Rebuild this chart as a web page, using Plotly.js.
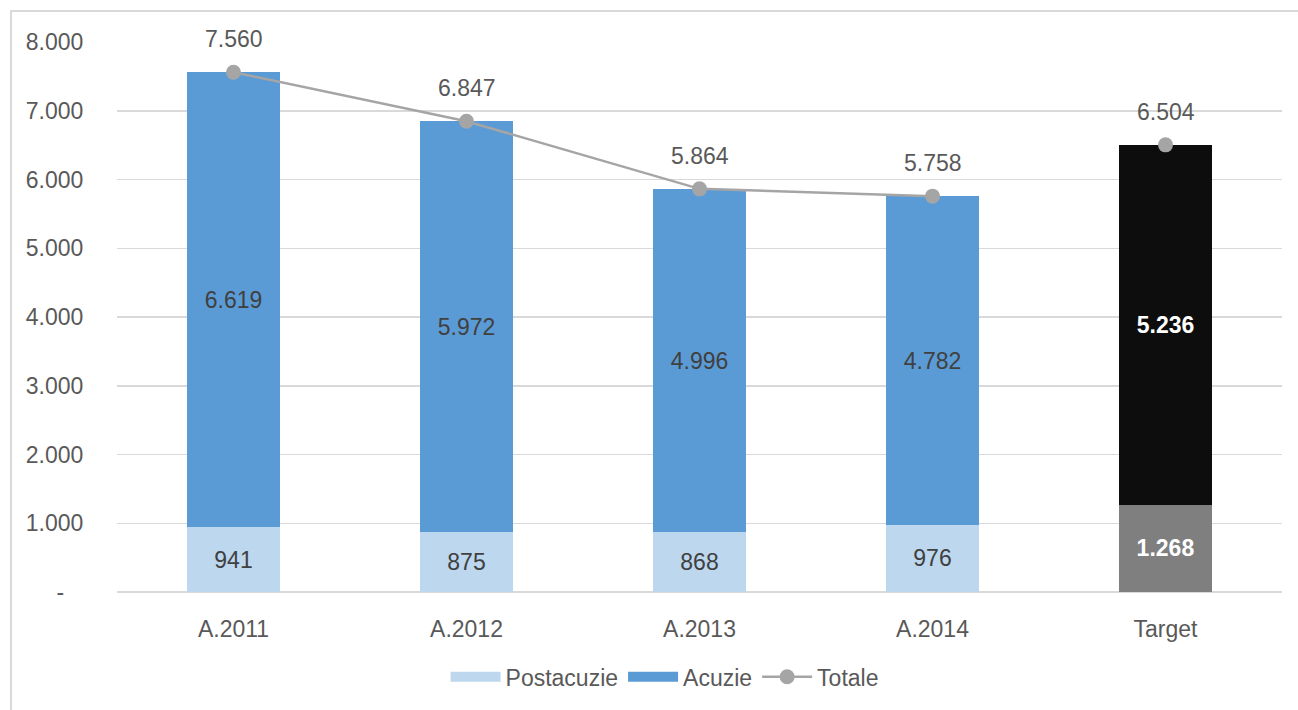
<!DOCTYPE html>
<html>
<head>
<meta charset="utf-8">
<script src="https://cdn.plot.ly/plotly-3.0.1.min.js"></script>
<style>html,body{margin:0;padding:0;background:#fff;}#chart{width:1298px;height:710px;}</style>
</head>
<body>
<div id="chart"></div>
<script>
const categories = ["A.2011", "A.2012", "A.2013", "A.2014", "Target"];
const postacuzie = [941, 875, 868, 976, 1268];
const acuzie = [6619, 5972, 4996, 4782, 5236];
const totale = [7560, 6847, 5864, 5758, 6504];
const yTickVals = [0, 1000, 2000, 3000, 4000, 5000, 6000, 7000, 8000];
const yTickText = ["-\u00a0\u00a0\u00a0", "1.000", "2.000", "3.000", "4.000", "5.000", "6.000", "7.000", "8.000"];

const FONT = '"Liberation Sans Narrow", "Arial Narrow", "Liberation Sans", Arial, sans-serif';
const isTarget = categories.map(c => c === "Target");

const postColors = isTarget.map(t => t ? "#7f7f7f" : "#bdd7ee");
const acuColors = isTarget.map(t => t ? "#0d0d0d" : "#5b9bd5");
const postText = isTarget.map(t => t ? "#ffffff" : "#404040");
const acuText = isTarget.map(t => t ? "#ffffff" : "#404040");
const fmt = v => v.toLocaleString("de-DE");

const traces = [
  {
    type: "bar", name: "Postacuzie", x: categories, y: postacuzie, showlegend: false,
    marker: {color: postColors},
    text: postacuzie.map((v, i) => isTarget[i] ? "<b>" + fmt(v) + "</b>" : fmt(v)),
    textposition: "inside", insidetextanchor: "middle",
    textfont: {family: FONT, size: 23, color: postText},
    hoverinfo: "skip"
  },
  {
    type: "bar", name: "Acuzie", x: categories, y: acuzie, showlegend: false,
    marker: {color: acuColors},
    text: acuzie.map((v, i) => isTarget[i] ? "<b>" + fmt(v) + "</b>" : fmt(v)),
    textposition: "inside", insidetextanchor: "middle",
    textfont: {family: FONT, size: 23, color: acuText},
    hoverinfo: "skip"
  },
  // legend entries with wide swatches
  {type: "scatter", mode: "lines", name: "Postacuzie", x: [null], y: [null],
   line: {color: "#bdd7ee", width: 14}, hoverinfo: "skip"},
  {type: "scatter", mode: "lines", name: "Acuzie", x: [null], y: [null],
   line: {color: "#5b9bd5", width: 14}, hoverinfo: "skip"},
  {
    type: "scatter", mode: "lines+markers", name: "Totale",
    x: categories.filter((c, i) => !isTarget[i]),
    y: totale.filter((v, i) => !isTarget[i]),
    line: {color: "#a5a5a5", width: 2.5},
    marker: {color: "#a5a5a5", size: 15},
    hoverinfo: "skip"
  },
  {
    type: "scatter", mode: "markers", name: "Totale target", showlegend: false,
    x: categories.filter((c, i) => isTarget[i]),
    y: totale.filter((v, i) => isTarget[i]),
    marker: {color: "#a5a5a5", size: 15},
    hoverinfo: "skip"
  }
];

const annotations = categories.map((c, i) => ({
  x: c, y: totale[i], xref: "x", yref: "y",
  text: fmt(totale[i]), showarrow: false, yshift: 33,
  font: {family: FONT, size: 23, color: "#595959"}
}));

const pl = 117, pr = 1282, pt = 42, pb = 592;
const W = 1298, H = 710;
const layout = {
  width: W, height: H,
  margin: {l: pl, r: W - pr, t: pt, b: H - pb},
  paper_bgcolor: "#ffffff", plot_bgcolor: "#ffffff",
  barmode: "stack", bargap: 0.6,
  separators: ",.",
  showlegend: true,
  legend: {
    orientation: "h", x: 0.47, xanchor: "center", y: -0.115, yanchor: "top",
    font: {family: FONT, size: 23, color: "#595959"}, traceorder: "normal",
    itemwidth: 50
  },
  xaxis: {
    type: "category", categoryarray: categories, showgrid: false, zeroline: false, showline: false,
    ticks: "outside", ticklen: 16, tickcolor: "rgba(0,0,0,0)",
    tickfont: {family: FONT, size: 23, color: "#595959"}, fixedrange: true
  },
  yaxis: {
    range: [0, 8000], tickvals: yTickVals, ticktext: yTickText,
    showgrid: true, gridcolor: "#d9d9d9", gridwidth: 1.5,
    zeroline: true, zerolinecolor: "#d9d9d9", zerolinewidth: 1.5, showline: false,
    ticks: "outside", ticklen: 28, tickcolor: "rgba(0,0,0,0)",
    tickfont: {family: FONT, size: 23, color: "#595959"}, fixedrange: true
  },
  annotations: annotations,
  shapes: [{
    type: "rect", xref: "paper", yref: "paper",
    x0: (11 - pl) / (pr - pl), x1: 1.2,
    y0: -0.3, y1: (pb - 11) / (pb - pt),
    line: {color: "#d9d9d9", width: 2}, fillcolor: "rgba(0,0,0,0)", layer: "below"
  }],
  font: {family: FONT, color: "#595959"}
};

Plotly.newPlot("chart", traces, layout, {displayModeBar: false, staticPlot: true});
</script>
</body>
</html>
